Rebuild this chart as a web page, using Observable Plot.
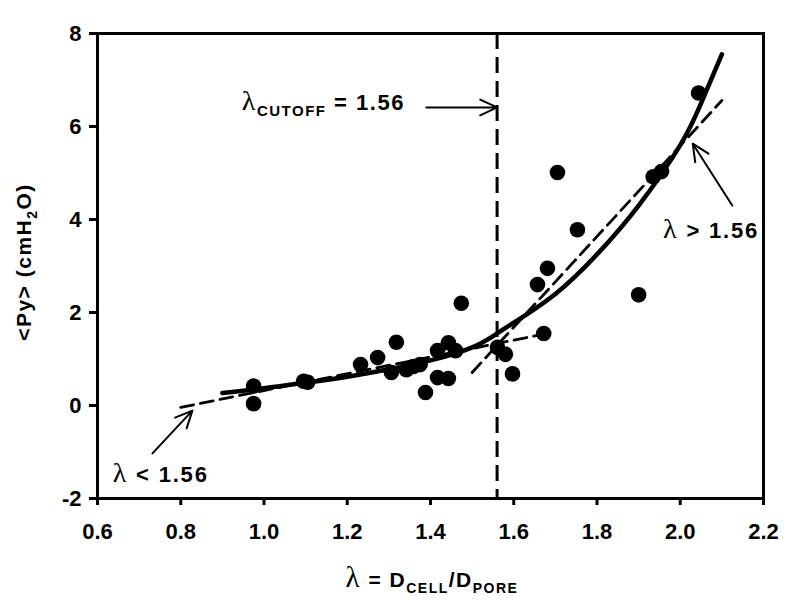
<!DOCTYPE html>
<html><head><meta charset="utf-8">
<script src="https://cdn.jsdelivr.net/npm/d3@7"></script>
<script src="https://cdn.jsdelivr.net/npm/@observablehq/plot@0.6"></script>
<style>body{margin:0;background:#fff}</style>
</head><body><div id="chart"></div>
<script>
// measured points
const pointLambda = [0.975, 0.975, 1.095, 1.105, 1.232, 1.273, 1.318, 1.306, 1.342, 1.359, 1.375, 1.388, 1.417, 1.443, 1.417, 1.443, 1.460, 1.474, 1.561, 1.580, 1.597, 1.672, 1.657, 1.681, 1.705, 1.753, 1.900, 1.935, 1.955, 2.044];
const pointPy     = [0.42, 0.04, 0.52, 0.50, 0.88, 1.03, 1.36, 0.71, 0.77, 0.84, 0.88, 0.28, 0.60, 0.58, 1.18, 1.35, 1.18, 2.20, 1.25, 1.10, 0.68, 1.55, 2.60, 2.95, 5.01, 3.78, 2.38, 4.92, 5.03, 6.72];
// solid fit curve
const fitLambda = [0.90, 1.00, 1.10, 1.20, 1.30, 1.40, 1.50, 1.56, 1.60, 1.70, 1.80, 1.90, 2.00, 2.05, 2.10];
const fitPy     = [0.27, 0.37, 0.49, 0.62, 0.78, 0.97, 1.25, 1.55, 1.78, 2.40, 3.25, 4.30, 5.60, 6.50, 7.55];
// dashed piecewise lines
const lowLambda = [0.80, 1.68];
const lowPy = [-0.04, 1.55];
const highLambda = [1.50, 2.10];
const highPy = [0.71, 6.56];
const cutoff = 1.56;
const xTicks = [0.6, 0.8, 1.0, 1.2, 1.4, 1.6, 1.8, 2.0, 2.2];
const yTicks = [-2, 0, 2, 4, 6, 8];
// annotation arrows (data space)
const arrowX1 = [1.39, 2.125, 0.732];
const arrowY1 = [6.41, 4.30, -1.03];
const arrowX2 = [1.56, 2.03, 0.828];
const arrowY2 = [6.41, 5.63, -0.11];

const pts = pointLambda.map((x, i) => ({x, y: pointPy[i]}));
const fit = fitLambda.map((x, i) => ({x, y: fitPy[i]}));
const low = lowLambda.map((x, i) => ({x, y: lowPy[i]}));
const high = highLambda.map((x, i) => ({x, y: highPy[i]}));
const arrows = arrowX1.map((x1, i) => ({x1, y1: arrowY1[i], x2: arrowX2[i], y2: arrowY2[i]}));

const font = "'Liberation Sans', Arial, sans-serif";
const plot = Plot.plot({
  width: 800, height: 610,
  marginLeft: 97, marginRight: 37, marginTop: 33, marginBottom: 112,
  style: {fontFamily: font, fontWeight: "bold", fontSize: "22px", background: "#fff", color: "#000"},
  x: {domain: [0.6, 2.2]},
  y: {domain: [-2, 8]},
  marks: [
    Plot.axisX({ticks: xTicks, tickFormat: d3.format(".1f"), tickSize: 7, tickPadding: 18, strokeWidth: 3, label: null}),
    Plot.axisY({ticks: yTicks, tickFormat: d => (d < 0 ? "-" + Math.abs(d) : String(d)), tickSize: 8, tickPadding: 8, strokeWidth: 3, label: null}),
    Plot.frame({strokeWidth: 3}),
    Plot.ruleX([cutoff], {strokeWidth: 3, strokeDasharray: "16,8"}),
    Plot.line(low, {x: "x", y: "y", strokeWidth: 2.8, strokeDasharray: "13,7"}),
    Plot.line(high, {x: "x", y: "y", strokeWidth: 2.8, strokeDasharray: "13,7"}),
    Plot.line(fit, {x: "x", y: "y", strokeWidth: 4.5, curve: "natural"}),
    Plot.dot(pts, {x: "x", y: "y", r: 7.8, fill: "#000"}),
    Plot.arrow(arrows, {x1: "x1", y1: "y1", x2: "x2", y2: "y2", strokeWidth: 2, headLength: 14, headAngle: 50, inset: 0})
  ]
});
document.getElementById("chart").append(plot);

const svg = d3.select(plot);
// tick label typography (only tick labels exist as text at this point)
svg.selectAll("text")
  .attr("font-size", 22).attr("font-weight", "bold").attr("font-family", font)
  .style("font-size", "22px").style("font-weight", "700").style("font-family", font);

const sx = plot.scale("x"), sy = plot.scale("y");
const serif = "'Liberation Serif', 'DejaVu Serif', serif";
function rich(x, y, parts, opts = {}) {
  const t = svg.append("text").attr("x", x).attr("y", y)
    .attr("font-family", font).attr("font-weight", "bold").attr("fill", "#000")
    .attr("text-anchor", opts.anchor || "start");
  if (opts.spacing) t.attr("letter-spacing", opts.spacing);
  if (opts.transform) t.attr("transform", opts.transform);
  for (const p of parts) {
    const s = t.append("tspan").text(p.t).attr("font-size", p.size);
    if (p.serif) s.attr("font-family", serif).attr("font-weight", "normal");
    if (p.dy) s.attr("dy", p.dy);
  }
  return t;
}
// cutoff label
rich(sx.apply(0.948), sy.apply(6.34), [
  {t: "λ", size: 28, serif: true},
  {t: "CUTOFF", size: 15, dy: 6},
  {t: " = 1.56", size: 22, dy: -6}
], {spacing: 1.5});
rich(sx.apply(1.96), sy.apply(3.59), [
  {t: "λ", size: 28, serif: true},
  {t: " > 1.56", size: 22}
], {spacing: 1.8});
rich(sx.apply(0.638), sy.apply(-1.66), [
  {t: "λ", size: 28, serif: true},
  {t: " < 1.56", size: 22}
], {spacing: 1.8});
// x axis label
rich(432, 587, [
  {t: "λ", size: 29, serif: true},
  {t: " = D", size: 21},
  {t: "CELL", size: 14, dy: 6},
  {t: "/D", size: 21, dy: -6},
  {t: "PORE", size: 14, dy: 6}
], {anchor: "middle", spacing: 1.5});
// y axis label
rich(0, 0, [
  {t: "<Py> (cmH", size: 21},
  {t: "2", size: 14, dy: 6},
  {t: "O)", size: 21, dy: -6}
], {anchor: "middle", spacing: 1.5, transform: "translate(31,262) rotate(-90)"});
</script>
</body></html>
